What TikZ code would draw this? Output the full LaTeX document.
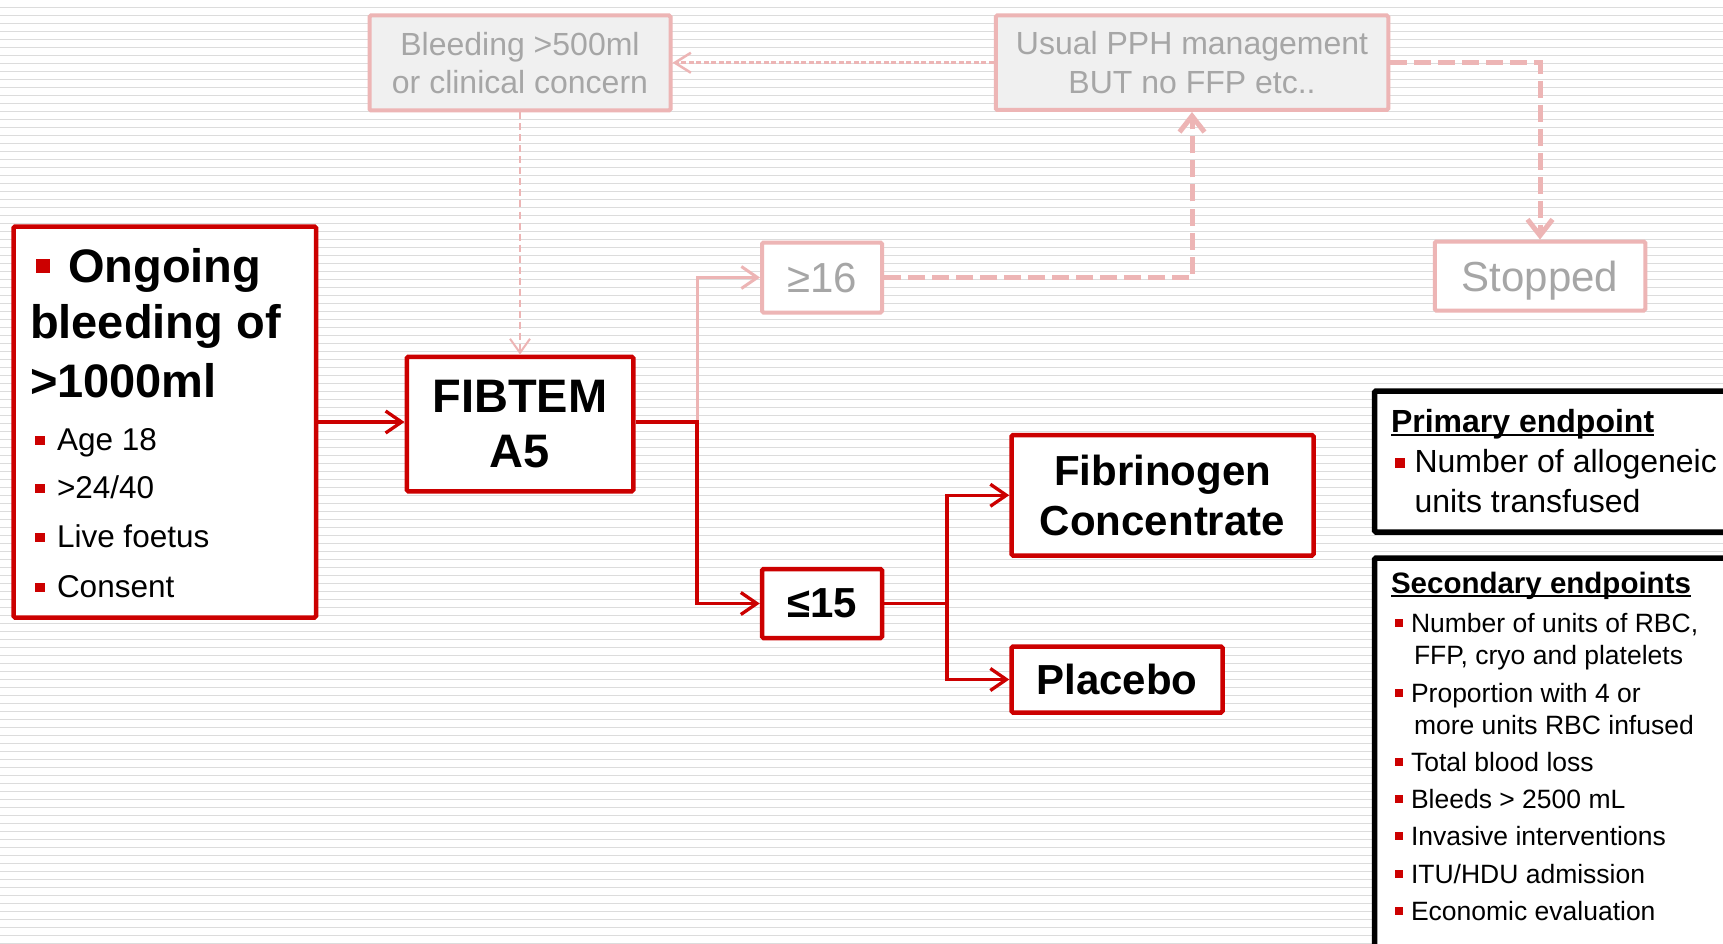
\documentclass[tikz,border=0pt]{standalone}
\usepackage{fontspec}
\setmainfont{Liberation Sans}
\usetikzlibrary{arrows.meta}
\definecolor{bred}{HTML}{CC0000}
\definecolor{fpink}{HTML}{EDB5B5}
\definecolor{fgray}{HTML}{A6A6A6}
\definecolor{fillgray}{HTML}{F0F0F0}
\definecolor{stripecol}{HTML}{DCDCDC}
\newcommand\sq[2]{\textcolor{bred}{\rule[#2pt]{#1pt}{#1pt}}}
\newcommand\myul[1]{\setbox0\hbox{#1}\rlap{\rule[-4pt]{\wd0}{2pt}}\box0}
\newcommand\fs[2]{\fontsize{#1pt}{#2pt}\selectfont}
\tikzset{
  redbox/.style={draw=bred, line width=4.5pt, fill=white, rounded corners=1.5pt, inner sep=0pt, align=center, text depth=0pt},
  fadebox/.style={draw=fpink, line width=4pt, fill=white, rounded corners=1.5pt, inner sep=0pt, align=center, text=fgray, text depth=0pt},
  blkbox/.style={draw=black, line width=5.5pt, fill=white, rounded corners=1.5pt, inner sep=0pt},
  txt/.style={anchor=base west, inner sep=0pt, outer sep=0pt},
  stripeline/.style={draw=stripecol, line width=1.8pt},
  redline/.style={draw=bred, line width=3.3pt},
  redarrow/.style={redline, -{Straight Barb[length=16pt,width=22pt]}},
  fadearrow/.style={draw=fpink, line width=3pt, -{Straight Barb[length=16pt,width=22pt]}},
  thindash/.style={draw=fpink, line width=2pt, dash pattern=on 7pt off 4pt, -{Straight Barb[length=14pt,width=20pt]}},
  dotarrow/.style={draw=fpink, line width=2.5pt, dash pattern=on 5pt off 2.5pt, -{Straight Barb[length=16pt,width=20pt]}},
  thickdash/.style={draw=fpink, line width=5pt, dash pattern=on 17pt off 7pt, -{Straight Barb[length=16pt,width=25pt]}},
}
\begin{document}
\begin{tikzpicture}[x=1pt,y=-1pt]
\useasboundingbox (0,0) rectangle (1723,944);
\clip (0,0) rectangle (1723,944);
\fill[white] (0,0) rectangle (1723,944);
\foreach \i in {0,...,117} {\draw[stripeline] (0,7.5+8*\i) -- (1723,7.5+8*\i);}

% main boxes
\node[redbox, minimum width=302.5, minimum height=391] (ong) at (164.75,422) {};
\node[redbox, minimum width=226.5, minimum height=134.5, font=\bfseries\fs{47}{55}] (fib) at (520,424) {FIBTEM\\A5};
\node[redbox, minimum width=120, minimum height=69, font=\bfseries\fs{42}{50}] (le) at (822,603.5) {≤15};
\node[redbox, minimum width=302, minimum height=120.5, font=\bfseries\fs{42}{50}] (fibc) at (1162.5,495.25) {Fibrinogen\\Concentrate};
\node[redbox, minimum width=211, minimum height=66, font=\bfseries\fs{42}{50}] (plac) at (1117,679.5) {Placebo};

% faded boxes
\node[fadebox, fill=fillgray, minimum width=301, minimum height=95, font=\fs{32}{38}] (bleed) at (520,63) {Bleeding >500ml\\or clinical concern};
\node[fadebox, fill=fillgray, minimum width=392.5, minimum height=94.5, font=\fs{32}{39}] (usual) at (1192,62.75) {Usual PPH management\\BUT no FFP etc..};
\node[fadebox, minimum width=120, minimum height=70, font=\fs{42}{50}] (ge) at (822,277.5) {≥16};
\node[fadebox, minimum width=210.5, minimum height=69, font=\fs{42}{50}] (stop) at (1540,276) {Stopped};

% endpoint boxes
\node[blkbox, minimum width=420, minimum height=141] (prim) at (1584.5,461.5) {};
\node[blkbox, minimum width=420, minimum height=390] (sec) at (1584.5,753) {};

% Ongoing texts
\node[txt, font=\bfseries\fs{47}{56}] (o1) at (36,282) {\sq{14}{9}\hspace{18pt}Ongoing};
\node[txt, font=\bfseries\fs{47}{56}] (o2) at (30,338) {bleeding of};
\node[txt, font=\bfseries\fs{47}{56}] (o3) at (30,397) {>1000ml};
\node[txt, font=\fs{31.5}{38}] (o4) at (35,450) {\sq{9.5}{5}\hspace{12.5pt}Age 18};
\node[txt, font=\fs{31.5}{38}] (o5) at (35,498) {\sq{9.5}{5}\hspace{12.5pt}>24/40};
\node[txt, font=\fs{31.5}{38}] (o6) at (35,547) {\sq{9.5}{5}\hspace{12.5pt}Live foetus};
\node[txt, font=\fs{31.5}{38}] (o7) at (35,597) {\sq{9.5}{5}\hspace{12.5pt}Consent};

% Primary endpoint texts
\node[txt, font=\bfseries\fs{32}{40}] (p1) at (1391,432) {\myul{Primary endpoint}};
\node[txt, font=\fs{32}{40}] (p2) at (1395,472) {\sq{10}{4}\hspace{9.5pt}Number of allogeneic};
\node[txt, font=\fs{32}{40}] (p3) at (1414.5,512) {units transfused};

% Secondary endpoint texts
\node[txt, font=\bfseries\fs{29.5}{36}] (s0) at (1391,593) {\myul{Secondary endpoints}};
\node[txt, font=\fs{26.5}{32}] (s1) at (1395,632) {\sq{8}{5}\hspace{8pt}Number of units of RBC,};
\node[txt, font=\fs{26.5}{32}] (s1b) at (1414,664) {FFP, cryo and platelets};
\node[txt, font=\fs{26.5}{32}] (s2) at (1395,702) {\sq{8}{5}\hspace{8pt}Proportion with 4 or};
\node[txt, font=\fs{26.5}{32}] (s2b) at (1414,734) {more units RBC infused};
\node[txt, font=\fs{26.5}{32}] (s3) at (1395,771) {\sq{8}{5}\hspace{8pt}Total blood loss};
\node[txt, font=\fs{26.5}{32}] (s4) at (1395,808) {\sq{8}{5}\hspace{8pt}Bleeds > 2500 mL};
\node[txt, font=\fs{26.5}{32}] (s5) at (1395,845) {\sq{8}{5}\hspace{8pt}Invasive interventions};
\node[txt, font=\fs{26.5}{32}] (s6) at (1395,883) {\sq{8}{5}\hspace{8pt}ITU/HDU admission};
\node[txt, font=\fs{26.5}{32}] (s7) at (1395,920) {\sq{8}{5}\hspace{8pt}Economic evaluation};

% connectors
\coordinate (split) at (697,422);
\coordinate (split2) at (947,603.5);
\draw[fadearrow] (ong.east -| split) |- (ge.west);
\draw[thindash] (bleed.south) -- (fib.north);
\draw[dotarrow] (usual.west) -- (usual.west -| bleed.east);
\draw[thickdash] (ge.east) -| (usual.south);
\draw[thickdash] (usual.east) -| (stop.north);
\draw[redarrow] (ong.east) -- (ong.east -| fib.west);
\draw[redarrow] (ong.east -| fib.east) -- (split) |- (le.west);
\draw[redarrow] (le.east) -- (le.east -| split2) |- (fibc.west);
\draw[redarrow] (le.east -| split2) |- (plac.west);
\end{tikzpicture}
\end{document}
